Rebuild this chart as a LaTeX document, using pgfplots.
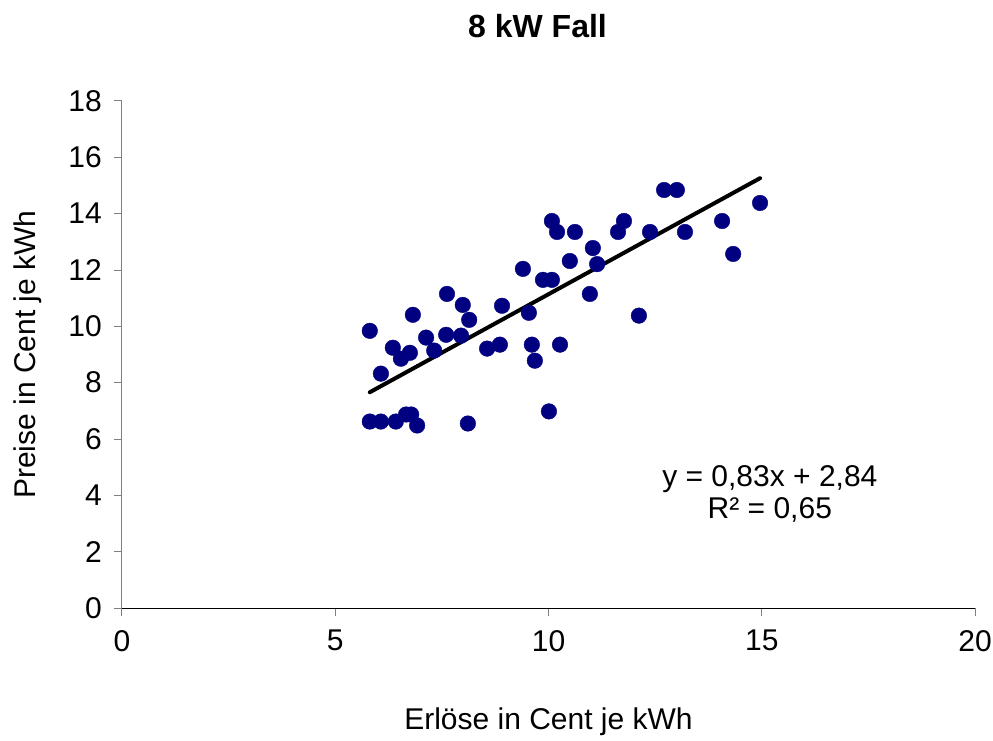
\documentclass[border=0pt]{standalone}
\usepackage{pgfplots}
\pgfplotsset{compat=1.18}
\usepackage{fontspec}
\setmainfont{Liberation Sans}
\definecolor{navy}{RGB}{0,0,128}
\begin{document}
\begin{tikzpicture}
\fontsize{30pt}{36pt}\selectfont
\path[use as bounding box] (0,0) rectangle (993pt,740pt);
\begin{axis}[
  at={(122pt,132pt)}, anchor=south west,
  width=853pt, height=507pt, scale only axis,
  xmin=0, xmax=20, ymin=0, ymax=18,
  xtick={0,5,...,20}, ytick={0,2,...,18},
  axis lines=left,
  x axis line style={-, black, line width=1pt},
  y axis line style={-, gray, line width=1pt},
  tick style={gray, line width=1pt},
  tick align=outside, major tick length=8pt,
  /pgf/number format/assume math mode=true,
  tick label style={font=\fontsize{30pt}{36pt}\selectfont},
  xticklabel style={yshift=-4pt},
  yticklabel style={xshift=-2pt},
  xlabel={Erlöse in Cent je kWh},
  ylabel={Preise in Cent je kWh},
  label style={font=\fontsize{30pt}{36pt}\selectfont},
  xlabel style={at={(axis description cs:0.5,0)}, anchor=center, yshift=-114pt},
  ylabel style={at={(axis description cs:0,0.5)}, anchor=center, yshift=94pt},
  title={8 kW Fall},
  title style={font=\fontsize{32pt}{36pt}\selectfont\bfseries, at={(axis description cs:0.5,1)}, anchor=center, yshift=69pt, xshift=-11pt},
  clip=false,
]
\addplot[only marks, mark=*, mark size=7.8pt, mark options={draw=navy, fill=navy}] coordinates {
(5.81,9.84) (5.81,6.62) (6.07,6.62) (6.07,8.32) (6.35,9.24) (6.54,8.85)
(6.75,9.06) (6.42,6.62) (6.66,6.87) (6.78,6.87) (6.92,6.48) (6.82,10.41)
(7.13,9.60) (7.32,9.14) (7.62,11.15) (7.60,9.70) (7.99,10.76) (7.95,9.67)
(8.14,10.23) (8.11,6.55) (8.56,9.21) (8.91,10.73) (8.86,9.35) (9.61,9.35)
(9.54,10.48) (9.68,8.78) (10.01,6.98) (10.27,9.35) (9.40,12.04) (9.87,11.65)
(10.08,11.65) (10.08,13.74) (10.20,13.35) (10.62,13.35) (10.50,12.32) (11.04,12.78)
(11.14,12.21) (10.97,11.15) (12.12,10.38) (11.63,13.35) (11.77,13.74) (12.38,13.35)
(12.71,14.84) (13.01,14.84) (13.20,13.35) (14.07,13.74) (14.33,12.57) (14.96,14.38)
};
\addplot[black, line width=4pt, line cap=round] coordinates {(5.81,7.66) (14.96,15.26)};
\node[align=center, font=\fontsize{30pt}{32pt}\selectfont] at (axis cs:15.19,4.04) {y = 0,83x + 2,84\\R² = 0,65};
\end{axis}
\end{tikzpicture}
\end{document}
